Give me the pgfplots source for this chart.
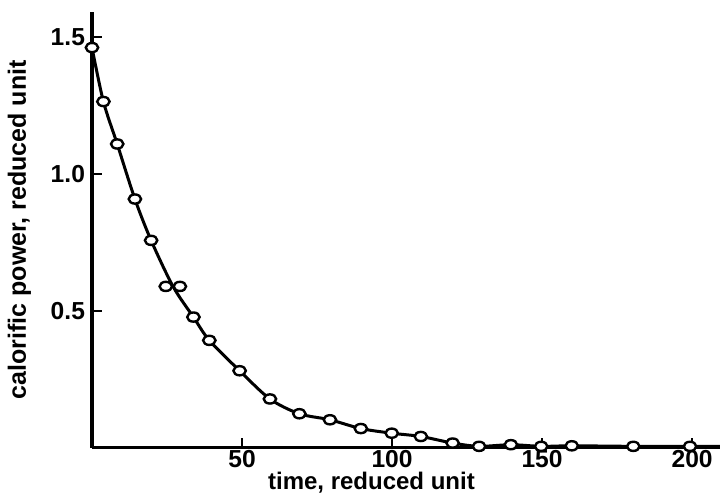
\documentclass[border=0pt]{standalone}
\usepackage{fontspec}
\setmainfont{Liberation Sans}
\usepackage{pgfplots}
\pgfplotsset{compat=1.18}
\begin{document}
\begin{tikzpicture}
\begin{axis}[name=ax, scale only axis, width=314pt, height=218pt,
 xmin=0, xmax=209.3, ymin=0, ymax=1.592,
 axis x line=bottom, axis y line=left, axis line style={-},
 x axis line style={line width=1.3pt}, y axis line style={line width=1.8pt},
 xtick={50,100,150,200}, ytick={0.5,1.0,1.5},
 yticklabels={0.5,1.0,1.5},
 tick align=inside, major tick length=5pt, tick style={line width=1.2pt, black},
 every tick label/.append style={font=\bfseries\fontsize{12.3}{15}\selectfont},
 label style={font=\bfseries\fontsize{12.5}{15}\selectfont},
 /pgf/number format/assume math mode=true,
 xticklabel style={inner sep=0pt, yshift=-1pt},
 xlabel={time, reduced unit},
 xlabel style={at={(axis description cs:0.445,0)}, anchor=base, yshift=-21pt, font=\bfseries\fontsize{12}{14}\selectfont},
 ylabel={calorific power, reduced unit},
 ylabel style={yshift=3pt},
 clip=false,
]
\addplot[line width=1.5pt, smooth, tension=0.5] table {
x y
0 1.461
3.8 1.264
8.4 1.109
14.3 0.908
19.7 0.757
27 0.589
33.8 0.477
39.1 0.392
49.2 0.281
59.3 0.178
69.1 0.124
79.3 0.102
89.6 0.070
99.9 0.053
109.6 0.041
120.2 0.017
129 0.005
139.6 0.011
149.7 0.005
159.9 0.007
180.4 0.005
199.3 0.005
209.3 0.005
};
\addplot[only marks, mark=*, mark size=2.3pt, mark options={fill=white, line width=1.2pt, xscale=1.35, solid}] table {
x y
0 1.461
3.8 1.264
8.4 1.109
14.3 0.908
19.7 0.757
24.6 0.589
29.3 0.589
33.8 0.477
39.1 0.392
49.2 0.281
59.3 0.178
69.1 0.124
79.3 0.102
89.6 0.070
99.9 0.053
109.6 0.041
120.2 0.017
129 0.005
139.6 0.011
149.7 0.005
159.9 0.007
180.4 0.005
199.3 0.005
};
\end{axis}
\pgfresetboundingbox
\path[use as bounding box] ([shift={(-46pt,-23pt)}]ax.south west) rectangle ([shift={(0pt,5.85pt)}]ax.north east);
\end{tikzpicture}
\end{document}
